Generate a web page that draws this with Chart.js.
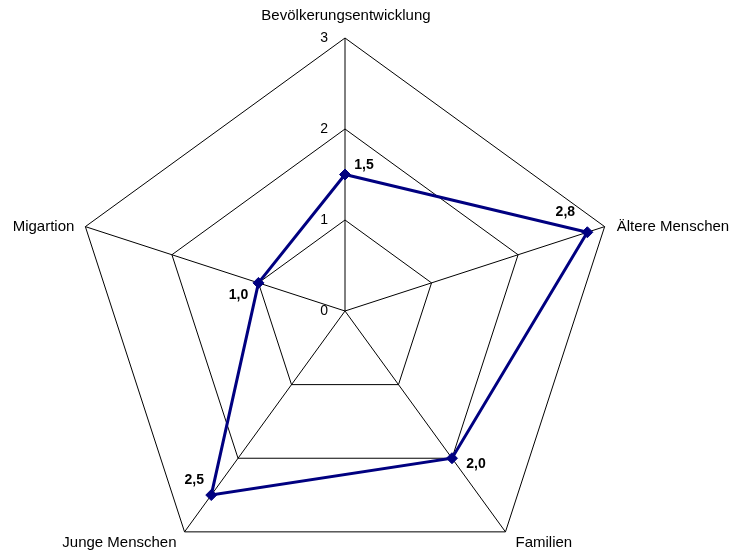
<!DOCTYPE html>
<html>
<head>
<meta charset="utf-8">
<script src="https://cdn.jsdelivr.net/npm/chart.js@4/dist/chart.umd.min.js"></script>
<style>
  html, body { margin: 0; padding: 0; overflow: hidden; background: #fff; }
  canvas { display: block; }
</style>
</head>
<body>
<canvas id="c" width="731" height="620"></canvas>
<script>
const categories = ['Bevölkerungsentwicklung', 'Ältere Menschen', 'Familien', 'Junge Menschen', 'Migartion'];
const values = [1.5, 2.8, 2.0, 2.5, 1.0];
const valueLabels = ['1,5', '2,8', '2,0', '2,5', '1,0'];
const tickValues = [0, 1, 2, 3];
const tickLabels = ['0', '1', '2', '3'];

const FONT = '"Liberation Sans", Arial, sans-serif';
// label placement (style, not data)
const catPlacement = [
  { dx: 1, dy: -22, align: 'center', base: 'middle' },
  { dx: 12, dy: 0, align: 'left', base: 'middle' },
  { dx: 10, dy: 11, align: 'left', base: 'middle' },
  { dx: -8, dy: 11, align: 'right', base: 'middle' },
  { dx: -11, dy: 0, align: 'right', base: 'middle' }
];
const valueOffsets = [[19, -9], [-22, -20], [24, 6], [-17, -15], [-20, 12]];

const labelPlugin = {
  id: 'labels',
  afterDraw(chart) {
    const ctx = chart.ctx;
    const r = chart.scales.r;
    ctx.save();
    ctx.fillStyle = '#000';
    // tick labels
    ctx.font = '14px ' + FONT;
    ctx.textAlign = 'right';
    ctx.textBaseline = 'middle';
    tickValues.forEach((v, i) => {
      const p = r.getPointPositionForValue(0, v);
      ctx.fillText(tickLabels[i], p.x - 17, p.y);
    });
    // category labels
    ctx.font = '15px ' + FONT;
    categories.forEach((c, i) => {
      const p = r.getPointPositionForValue(i, 3);
      const pl = catPlacement[i];
      ctx.textAlign = pl.align;
      ctx.textBaseline = pl.base;
      ctx.fillText(c, p.x + pl.dx, p.y + pl.dy);
    });
    // value labels
    ctx.font = 'bold 14px ' + FONT;
    ctx.textAlign = 'center';
    ctx.textBaseline = 'middle';
    values.forEach((v, i) => {
      const p = r.getPointPositionForValue(i, v);
      ctx.fillText(valueLabels[i], p.x + valueOffsets[i][0], p.y + valueOffsets[i][1]);
    });
    ctx.restore();
  }
};

new Chart(document.getElementById('c'), {
  type: 'radar',
  data: {
    labels: categories,
    datasets: [{
      data: values,
      borderColor: '#000080',
      backgroundColor: '#000080',
      borderWidth: 3,
      fill: false,
      tension: 0,
      pointStyle: 'rectRot',
      pointRadius: 5.5,
      pointHoverRadius: 5.5,
      pointBackgroundColor: '#000080',
      pointBorderColor: '#000080',
      pointBorderWidth: 1
    }]
  },
  options: {
    responsive: false,
    animation: false,
    devicePixelRatio: 1,
    layout: { padding: { left: 72, right: 113, top: 38, bottom: 36 } },
    plugins: { legend: { display: false }, tooltip: { enabled: false } },
    scales: {
      r: {
        min: 0,
        max: 3,
        ticks: { display: false, stepSize: 1 },
        pointLabels: { display: false },
        grid: { color: '#000', lineWidth: 1 },
        angleLines: { color: '#000', lineWidth: 1 }
      }
    }
  },
  plugins: [labelPlugin]
});
</script>
</body>
</html>
